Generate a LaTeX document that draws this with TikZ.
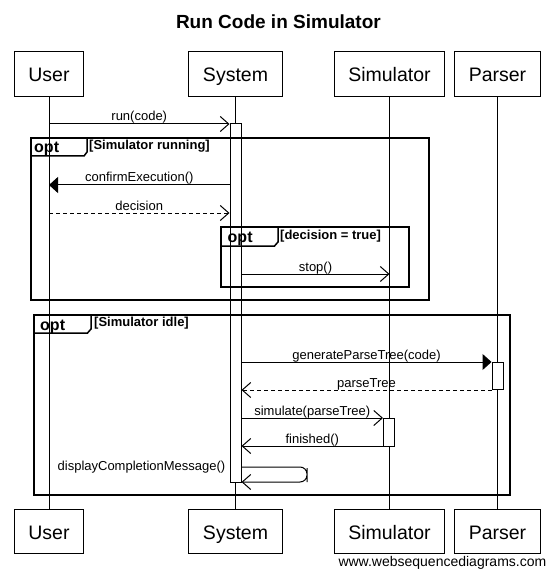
\documentclass[tikz,border=0pt]{standalone}
\usepackage{fontspec}
\setmainfont{Liberation Sans}
\usetikzlibrary{arrows.meta,positioning}

\begin{document}
\begin{tikzpicture}[x=1pt,y=-1pt,
    actor/.style={draw,line width=1pt,minimum height=44.5pt,inner xsep=14pt,
      text height=15pt,text depth=0pt,font=\fontsize{19.5}{22}\selectfont},
    bar/.style={draw,fill=white,line width=1pt,minimum width=11pt,inner sep=0pt},
    frame/.style={line width=2pt},
    tab/.style={line width=1.5pt},
    msg/.style={line width=1pt,-{Straight Barb[length=8.5pt,width=15pt]}},
    call/.style={line width=1pt,-{Triangle[length=9pt,width=16pt]}},
    reply/.style={msg,dash pattern=on 4pt off 3pt},
    lbl/.style={font=\fontsize{13}{15}\selectfont,anchor=base,yshift=3pt,inner sep=0pt},
    guard/.style={font=\bfseries\fontsize{13}{15}\selectfont,anchor=base west,inner sep=0pt},
    optlbl/.style={font=\bfseries\fontsize{16}{18}\selectfont,anchor=base west,inner sep=0pt}]
    \useasboundingbox (0,0) rectangle (555,577);
    \node [font=\bfseries\fontsize{19}{22}\selectfont,anchor=base] (title) at (278.4,29) {Run Code in Simulator};
    % participants, top and bottom
    \node [actor] (userH) at (49,74) {User};
    \node [actor] (sysH) at (235.5,74) {System};
    \node [actor] (simH) at (389.5,74) {Simulator};
    \node [actor] (parserH) at (497.5,74) {Parser};
    \node [actor,below=412pt of userH] (userF) {User};
    \node [actor,below=412pt of sysH] (sysF) {System};
    \node [actor,below=412pt of simH] (simF) {Simulator};
    \node [actor,below=412pt of parserH] (parserF) {Parser};
    \draw [line width=1pt] (userH) -- (userF);
    \draw [line width=1pt] (sysH) -- (sysF);
    \draw [line width=1pt] (simH) -- (simF);
    \draw [line width=1pt] (parserH) -- (parserF);
    % activations
    \node [bar,minimum height=358pt] (sysAct) at (235.5,303) {};
    \node [bar,minimum height=27.5pt] (parserAct) at (497.5,375.75) {};
    \node [bar,minimum height=28pt] (simAct) at (389,432) {};
    % opt frames
    \draw [frame] (31,138) rectangle (429,300);
    \draw [tab] (31,156) -- (84,156) -- (87,152) -- (87,138);
    \node [optlbl] (opt1) at (34,153) {opt};
    \node [guard] (g1) at (89,149.5) {[Simulator running]};
    \draw [frame] (221,227) rectangle (409,287);
    \draw [tab] (221,246) -- (274.5,246) -- (278,242) -- (278,227);
    \node [optlbl] (opt2) at (227.5,242) {opt};
    \node [guard] (g2) at (280,239.5) {[decision = true]};
    \draw [frame] (34,315) rectangle (510,495);
    \draw [tab] (34,333) -- (87.5,333) -- (91,329) -- (91,315);
    \node [optlbl] (opt3) at (40,330) {opt};
    \node [guard] (g3) at (94,326.5) {[Simulator idle]};
    % messages
    \draw [msg] (userH |- 0,124) -- (sysAct.west |- 0,124) node [lbl,midway] {run(code)};
    \draw [call] (sysAct.west |- 0,185) -- (userH |- 0,185) node [lbl,midway] {confirmExecution()};
    \draw [reply] (userH |- 0,213) -- (sysAct.west |- 0,213) node [lbl,midway] {decision};
    \draw [msg] (sysAct.east |- 0,274) -- (simH |- 0,274) node [lbl,midway] {stop()};
    \draw [call] (sysAct.east |- 0,362) -- (parserAct.west |- 0,362) node [lbl,midway] {generateParseTree(code)};
    \draw [reply] (parserAct.west |- 0,390) -- (sysAct.east |- 0,390) node [lbl,midway] {parseTree};
    \draw [msg] (sysAct.east |- 0,418) -- (simAct.west |- 0,418) node [lbl,midway] {simulate(parseTree)};
    \draw [msg] (simAct.west |- 0,446) -- (sysAct.east |- 0,446) node [lbl,midway] {finished()};
    \draw [msg,rounded corners=7pt] (sysAct.east |- 0,467) -| (307,475) |- (sysAct.east |- 0,482);
    \node [lbl,anchor=base east,yshift=0pt] (selfmsg) at ([xshift=-4pt]sysAct.west |- 0,473) {displayCompletionMessage()};
    \node [font=\fontsize{14}{16}\selectfont,anchor=base] (wsd) at (442.4,566) {www.websequencediagrams.com};
\end{tikzpicture}
\end{document}
